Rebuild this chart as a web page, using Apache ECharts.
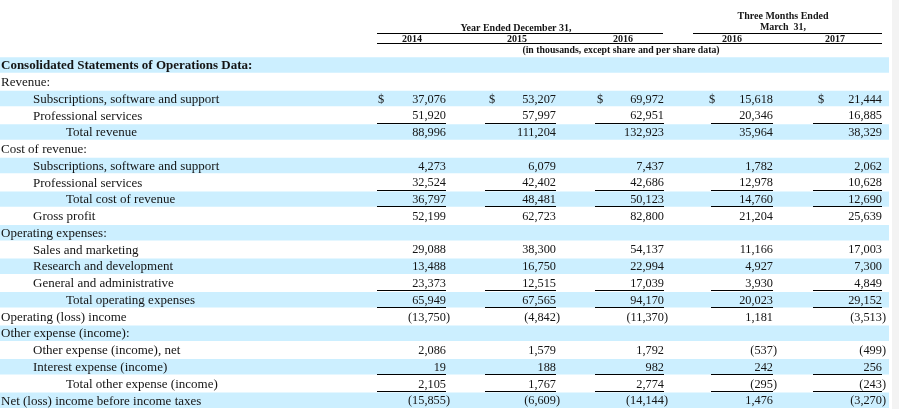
<!DOCTYPE html>
<html>
<head>
<meta charset="utf-8">
<script src="https://cdn.jsdelivr.net/npm/echarts@6/dist/echarts.min.js"></script>
<style>
  html, body { margin: 0; padding: 0; background: #fff; }
  #chart { width: 899px; height: 409px; }
</style>
</head>
<body>
<div id="chart"></div>
<script>
// row captions and their indent level (0 = flush, 1 = item, 2 = total)
const rowLabels = [
  "Consolidated Statements of Operations Data:",
  "Revenue:",
  "Subscriptions, software and support",
  "Professional services",
  "Total revenue",
  "Cost of revenue:",
  "Subscriptions, software and support",
  "Professional services",
  "Total cost of revenue",
  "Gross profit",
  "Operating expenses:",
  "Sales and marketing",
  "Research and development",
  "General and administrative",
  "Total operating expenses",
  "Operating (loss) income",
  "Other expense (income):",
  "Other expense (income), net",
  "Interest expense (income)",
  "Total other expense (income)",
  "Net (loss) income before income taxes"
];
const rowIndent = [0, 0, 1, 1, 2, 0, 1, 1, 2, 1, 0, 1, 1, 1, 2, 0, 0, 1, 1, 2, 0];

const periodLabels = ["2014", "2015", "2016", "2016", "2017"];

// in thousands
const fy2014 = [null, null, 37076, 51920, 88996, null, 4273, 32524, 36797, 52199, null, 29088, 13488, 23373, 65949, -13750, null, 2086, 19, 2105, -15855];
const fy2015 = [null, null, 53207, 57997, 111204, null, 6079, 42402, 48481, 62723, null, 38300, 16750, 12515, 67565, -4842, null, 1579, 188, 1767, -6609];
const fy2016 = [null, null, 69972, 62951, 132923, null, 7437, 42686, 50123, 82800, null, 54137, 22994, 17039, 94170, -11370, null, 1792, 982, 2774, -14144];
const q1_2016 = [null, null, 15618, 20346, 35964, null, 1782, 12978, 14760, 21204, null, 11166, 4927, 3930, 20023, 1181, null, -537, 242, -295, 1476];
const q1_2017 = [null, null, 21444, 16885, 38329, null, 2062, 10628, 12690, 25639, null, 17003, 7300, 4849, 29152, -3513, null, -499, 256, -243, -3270];

const dollarRows = [2];
const underlineRows = [3, 7, 8, 13, 14, 18, 19];

// layout (pixels on the hidden x axis)
const indentX = [1, 33, 66];
const colLeft = [377, 485, 595, 711, 813];
const colRight = [446, 556, 664, 773, 882];
const dollarX = [378, 489, 597, 709, 818];
const bandRight = 889;

const FONT = "'Liberation Serif', 'DejaVu Serif', serif";
const INK = "#141414";
const BAND = "#ccefff";

function fmt(v) {
  const s = Math.abs(v).toLocaleString("en-US");
  return v < 0 ? "(" + s + ")" : s;
}

const seriesData = rowLabels.map((_, i) => [
  i,
  fy2014[i] == null ? "-" : fy2014[i],
  fy2015[i] == null ? "-" : fy2015[i],
  fy2016[i] == null ? "-" : fy2016[i],
  q1_2016[i] == null ? "-" : q1_2016[i],
  q1_2017[i] == null ? "-" : q1_2017[i]
]);

function renderRow(params, api) {
  const r = api.value(0);
  const yc = api.coord([0, r])[1];
  const h = api.size([0, 1])[1];
  const x = (px) => api.coord([px, r])[0];
  const kids = [];

  if (r % 2 === 0) {
    kids.push({
      type: "rect",
      shape: { x: x(0), y: yc - h / 2 + 0.3, width: x(bandRight) - x(0), height: h - 1.3 },
      style: { fill: BAND }
    });
  }

  kids.push({
    type: "text",
    style: {
      text: rowLabels[r],
      x: x(indentX[rowIndent[r]]),
      y: yc + 0.5,
      fill: INK,
      fontFamily: FONT,
      fontSize: 13,
      fontWeight: r === 0 ? "bold" : "normal",
      align: "left",
      verticalAlign: "middle"
    }
  });

  for (let j = 0; j < 5; j++) {
    const v = api.value(j + 1);
    if (isNaN(v)) continue;
    kids.push({
      type: "text",
      style: {
        text: fmt(v),
        x: x(colRight[j] + (v < 0 ? 4 : 0)),
        y: yc + 0.5,
        fill: INK,
        fontFamily: FONT,
        fontSize: 12.3,
        align: "right",
        verticalAlign: "middle"
      }
    });
    if (dollarRows.indexOf(r) >= 0) {
      kids.push({
        type: "text",
        style: {
          text: "$",
          x: x(dollarX[j]),
          y: yc + 0.5,
          fill: INK,
          fontFamily: FONT,
          fontSize: 12.3,
          align: "left",
          verticalAlign: "middle"
        }
      });
    }
    if (underlineRows.indexOf(r) >= 0) {
      const ly = Math.round(yc + h / 2 - 1.5) + 0.5;
      kids.push({
        type: "line",
        shape: { x1: x(colLeft[j]), y1: ly, x2: x(colRight[j]), y2: ly },
        style: { stroke: "#000", lineWidth: 1 }
      });
    }
  }
  return { type: "group", children: kids };
}

function headText(text, cx, cy, size) {
  return {
    type: "text",
    x: cx,
    y: cy,
    style: {
      text: text,
      fill: INK,
      font: "bold " + size + "px " + FONT,
      textAlign: "center",
      textVerticalAlign: "middle"
    }
  };
}
function headLine(x1, x2, y) {
  return {
    type: "line",
    shape: { x1: x1, y1: y, x2: x2, y2: y },
    style: { stroke: "#000", lineWidth: 1 }
  };
}

const periodCenters = [412, 517, 623, 732, 835];

const chart = echarts.init(document.getElementById("chart"), null, { renderer: "canvas" });
chart.setOption({
  animation: false,
  backgroundColor: "#fff",
  grid: { left: 0, right: 0, top: 57, bottom: 0, containLabel: false },
  xAxis: { type: "value", min: 0, max: 899, show: false },
  yAxis: {
    type: "category",
    inverse: true,
    show: false,
    data: rowLabels.map((_, i) => i)
  },
  graphic: [
    { type: "rect", shape: { x: 892, y: 0, width: 7, height: 409 }, style: { fill: "#f3f3f3" } },
    headText("Year Ended December 31,", 516, 28.5, 10),
    headText("Three Months Ended", 783, 16.5, 10),
    headText("March  31,", 783, 27.5, 10),
    headLine(377, 663, 33.5),
    headLine(693, 882, 33.5),
    headLine(377, 882, 43.5),
    ...periodLabels.map((p, i) => headText(p, periodCenters[i], 39, 10)),
    headText("(in thousands, except share and per share data)", 621, 50, 9.8)
  ],
  series: [
    {
      type: "custom",
      coordinateSystem: "cartesian2d",
      encode: { y: 0, x: 1 },
      clip: false,
      silent: true,
      renderItem: renderRow,
      data: seriesData
    }
  ]
});
</script>
</body>
</html>
